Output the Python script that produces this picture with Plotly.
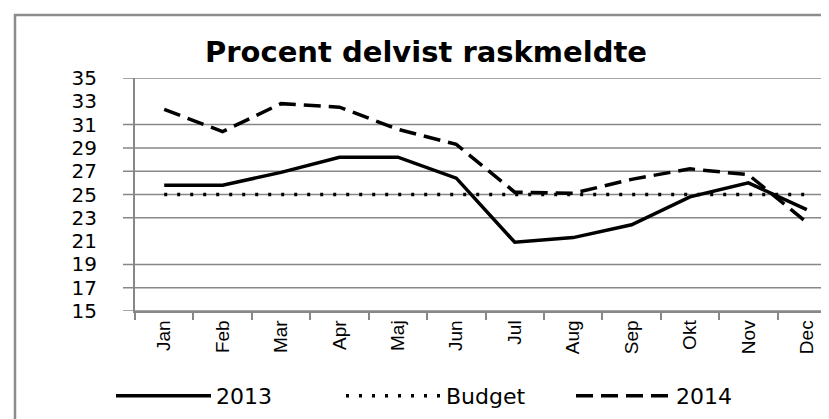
import plotly.graph_objects as go

months = ["Jan", "Feb", "Mar", "Apr", "Maj", "Jun", "Jul", "Aug", "Sep", "Okt", "Nov", "Dec"]
y2013 = [25.8, 25.8, 26.9, 28.2, 28.2, 26.4, 20.9, 21.3, 22.4, 24.8, 26.0, 23.7]
budget = [25, 25, 25, 25, 25, 25, 25, 25, 25, 25, 25, 25]
y2014 = [32.3, 30.4, 32.8, 32.5, 30.6, 29.3, 25.2, 25.1, 26.3, 27.2, 26.7, 22.6]
ytick_vals = [15, 17, 19, 21, 23, 25, 27, 29, 31, 33, 35]
grid_vals = [15, 17, 19, 23, 25, 27, 29, 31, 35]

GRID = "#878787"
W, H = 829, 419
ML, MR, MT, MB = 127, 1, 70, 116
pw, ph = W - ML - MR, H - MT - MB

fig = go.Figure()
fig.add_trace(go.Scatter(x=months, y=y2013, name="2013", mode="lines",
                         line=dict(color="black", width=3.5)))
fig.add_trace(go.Scatter(x=months, y=budget, name="Budget", mode="lines",
                         line=dict(color="black", width=3.5, dash="3px,10px")))
fig.add_trace(go.Scatter(x=months, y=y2014, name="2014", mode="lines",
                         line=dict(color="black", width=3.5, dash="17px,8px")))

for v in grid_vals:
    fig.add_shape(type="line", xref="paper", yref="y", x0=-12 / pw, x1=1.02, y0=v, y1=v,
                  line=dict(color=GRID, width=1.5), layer="below")

# outer chart frame
fig.add_shape(type="rect", xref="paper", yref="paper",
              x0=(7 - ML) / pw, x1=1.05, y0=(H - MB - 440) / ph, y1=(H - MB - 7) / ph,
              line=dict(color="#8c8c8c", width=2.5), layer="below")

fig.update_layout(
    width=W, height=H,
    margin=dict(l=ML, r=MR, t=MT, b=MB),
    paper_bgcolor="white", plot_bgcolor="white",
    showlegend=True,
    title=dict(text="<b>Procent delvist raskmeldte</b>", x=418 / W, xanchor="center",
               y=1 - 44 / H, yanchor="middle",
               font=dict(family="DejaVu Sans", size=29, color="black")),
    legend=dict(orientation="h", x=(103 - ML) / pw, xanchor="left", y=(H - MB - 388) / ph,
                yanchor="middle", font=dict(family="DejaVu Sans", size=22, color="black"),
                itemwidth=95, entrywidth=120, bgcolor="rgba(0,0,0,0)"),
    xaxis=dict(type="category", showgrid=False, showline=True, linecolor=GRID, linewidth=1.5,
               ticks="outside", ticklen=7, tickcolor=GRID, tickwidth=1.5, tickson="boundaries",
               tickangle=-90, tickfont=dict(family="Liberation Sans", size=19, color="black"),
               range=[-0.5, 11.5], zeroline=False),
    yaxis=dict(range=[15, 35], tickvals=ytick_vals, showgrid=False, showline=True,
               linecolor=GRID, linewidth=2, ticks="outside", ticklen=32,
               tickcolor="rgba(0,0,0,0)", automargin=False,
               tickfont=dict(family="DejaVu Sans", size=20, color="black"), zeroline=False),
)

fig.write_html("out.html")
